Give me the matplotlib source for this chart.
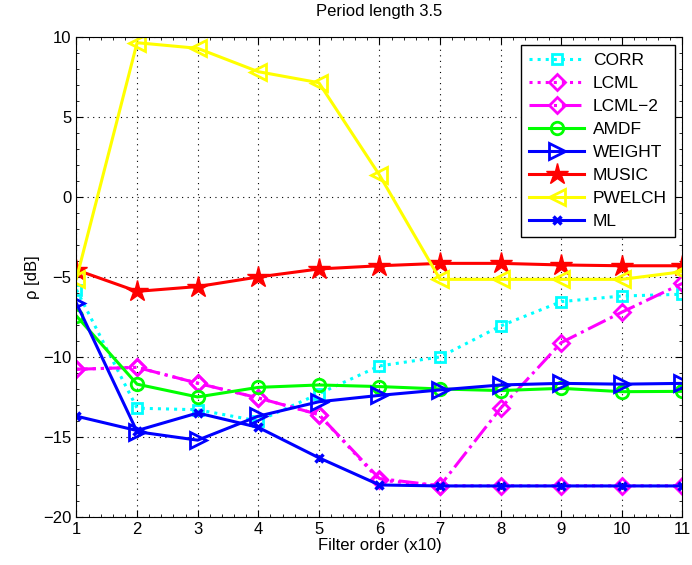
import matplotlib
matplotlib.use("Agg")
import matplotlib.pyplot as plt
from matplotlib.ticker import MultipleLocator
import numpy as np

plt.rcParams['font.family'] = ['Liberation Sans', 'DejaVu Sans']
plt.rcParams['font.size'] = 12

# filter order (x10)
order = np.arange(1, 12)

corr   = [-5.8, -13.2, -13.3, -14.0, -12.3, -10.56, -10.0, -8.06, -6.54, -6.19, -6.08]
lcml   = [-10.77, -10.65, -11.64, -12.56, -13.6, -17.7, -18.05, -18.05, -18.05, -18.05, -18.05]
lcml2  = [-10.77, -10.65, -11.64, -12.56, -13.6, -17.6, -18.05, -13.2, -9.1, -7.2, -5.4]
amdf   = [-7.44, -11.7, -12.5, -11.9, -11.75, -11.85, -12.0, -12.1, -11.96, -12.17, -12.15]
weight = [-6.65, -14.67, -15.2, -13.7, -12.8, -12.4, -12.06, -11.75, -11.65, -11.7, -11.65]
music  = [-4.56, -5.9, -5.6, -5.0, -4.5, -4.3, -4.15, -4.15, -4.25, -4.3, -4.3]
pwelch = [-5.1, 9.64, 9.29, 7.83, 7.14, 1.37, -5.15, -5.15, -5.15, -5.15, -4.67]
ml     = [-13.7, -14.6, -13.5, -14.4, -16.3, -18.0, -18.06, -18.06, -18.06, -18.06, -18.06]

fig = plt.figure(figsize=(6.92, 5.65), dpi=100)
ax = fig.add_axes([0.1105, 0.085, 0.8757, 0.8496])

lw = 2.2
ax.plot(order, corr, ':', color='cyan', lw=lw, marker='s', ms=7, mfc='none', mew=2, label='CORR')
ax.plot(order, lcml, ':', color='magenta', lw=lw, marker='D', ms=8, mfc='none', mew=2, label='LCML')
ax.plot(order, lcml2, '-.', color='magenta', lw=lw, marker='D', ms=8, mfc='none', mew=2, label='LCML\u22122')
ax.plot(order, amdf, '-', color='#00ff00', lw=lw, marker='o', ms=9, mfc='none', mew=2, label='AMDF')
ax.plot(order, weight, '-', color='blue', lw=lw, marker='>', ms=11, mfc='none', mew=2, label='WEIGHT')
ax.plot(order, music, '-', color='red', lw=lw, marker='*', ms=16, mew=1, label='MUSIC')
ax.plot(order, pwelch, '-', color='yellow', lw=lw, marker='<', ms=11, mfc='none', mew=2, label='PWELCH')
ax.plot(order, ml, '-', color='blue', lw=lw, marker='x', ms=6, mew=2.5, label='ML')

ax.set_xlim(1, 11)
ax.set_ylim(-20, 10)
ax.set_xticks(order)
ax.set_yticks(np.arange(-20, 11, 5))
ax.set_yticklabels(['\u221220', '\u221215', '\u221210', '\u22125', '0', '5', '10'])
ax.xaxis.set_minor_locator(MultipleLocator(0.2))
ax.yaxis.set_minor_locator(MultipleLocator(1))
ax.tick_params(which='both', direction='in', top=True, right=True)
ax.tick_params(which='major', length=5)
ax.tick_params(which='minor', length=2.5)
ax.grid(True, which='major', linestyle=(0, (1, 4)), color='black', lw=0.8)
ax.set_xlabel('Filter order (x10)', labelpad=1)
ax.set_ylabel('\u03c1 [dB]', labelpad=2)
ax.set_title('Period length 3.5', fontsize=12, pad=15)

leg = ax.legend(loc='upper right', bbox_to_anchor=(0.9876, 0.9827), borderaxespad=0,
                fancybox=False, framealpha=1, edgecolor='black', handlelength=3.2,
                handletextpad=0.5, borderpad=0.45, labelspacing=0.45, fontsize=12.5)
leg.get_frame().set_linewidth(1.0)

fig.savefig('out.png', dpi=100)
